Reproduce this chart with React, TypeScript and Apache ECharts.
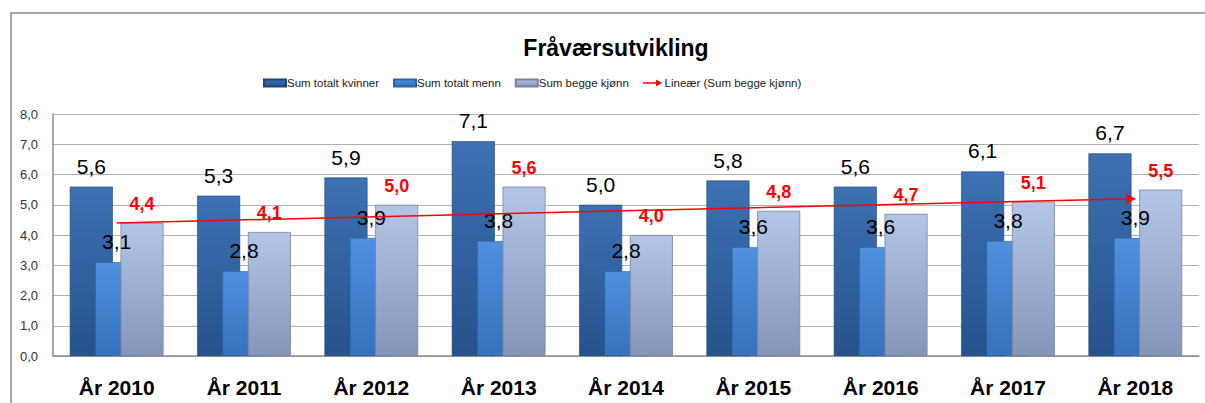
import React, { useEffect, useRef } from "react";
import * as echarts from "echarts";

const categories = ["År 2010", "År 2011", "År 2012", "År 2013", "År 2014", "År 2015", "År 2016", "År 2017", "År 2018"];
const kvinner = [5.6, 5.3, 5.9, 7.1, 5.0, 5.8, 5.6, 6.1, 6.7];
const menn = [3.1, 2.8, 3.9, 3.8, 2.8, 3.6, 3.6, 3.8, 3.9];
const begge = [4.4, 4.1, 5.0, 5.6, 4.0, 4.8, 4.7, 5.1, 5.5];
// trend line: value at first and last category
const trendValues = [4.4, 5.2];
const yTicks = { min: 0, max: 8, interval: 1 };

const fmt = (v: number) => v.toFixed(1).replace(".", ",");

const grad = (top: string, bottom: string) =>
  new echarts.graphic.LinearGradient(0, 0, 0, 1, [
    { offset: 0, color: top },
    { offset: 1, color: bottom },
  ]);

export default function App() {
  const ref = useRef<HTMLDivElement>(null);
  useEffect(() => {
    if (!ref.current) return;
    const chart = echarts.init(ref.current, null, { renderer: "svg" });
    const font = "'Liberation Sans', Arial, sans-serif";
    chart.setOption({
      animation: false,
      backgroundColor: "#ffffff",
      graphic: [
        {
          type: "rect",
          shape: { x: 11, y: 13, width: 1210, height: 420 },
          style: { fill: "none", stroke: "#8a8a8a", lineWidth: 1.5 },
          silent: true,
          z: -1,
        },
      ],
      title: {
        text: "Fråværsutvikling",
        left: 611,
        top: 31,
        textAlign: "center",
        textStyle: { fontSize: 23, fontWeight: "bold", color: "#000", fontFamily: font },
      },
      legend: {
        left: 258,
        top: 72,
        itemGap: 14,
        itemWidth: 22,
        itemHeight: 7,
        textStyle: { fontSize: 11.5, color: "#222", fontFamily: font, padding: [0, 0, 0, -4] },
        data: [
          { name: "Sum totalt kvinner", icon: "rect" },
          { name: "Sum totalt menn", icon: "rect" },
          { name: "Sum begge kjønn", icon: "rect" },
          {
            name: "Lineær (Sum begge kjønn)",
            icon: "path://M0,4.2 L15,4.2 L15,1 L22,5 L15,9 L15,5.8 L0,5.8 Z",
            itemStyle: { color: "#ff0000" },
          },
        ],
      },
      grid: { left: 53, right: 6, top: 114, bottom: 47, containLabel: false },
      xAxis: {
        type: "category",
        data: categories,
        axisTick: { show: false },
        axisLine: { show: true, lineStyle: { color: "#8c8c8c", width: 1.5 } },
        axisLabel: {
          margin: 21,
          fontSize: 21,
          fontWeight: "bold",
          color: "#000",
          fontFamily: font,
        },
      },
      yAxis: {
        type: "value",
        min: yTicks.min,
        max: yTicks.max,
        interval: yTicks.interval,
        axisLine: { show: true, lineStyle: { color: "#8c8c8c", width: 1.5 } },
        axisTick: { show: false },
        splitLine: { lineStyle: { color: "#b0b0b0", width: 1.2 } },
        axisLabel: {
          formatter: (v: number) => fmt(v),
          fontSize: 13,
          color: "#333",
          margin: 15,
          fontFamily: font,
        },
      },
      series: [
        {
          name: "Sum totalt kvinner",
          type: "bar",
          data: kvinner,
          barWidth: 43,
          barGap: "-41%",
          itemStyle: { color: grad("#3c71b3", "#26528c"), borderColor: "#1f4376", borderWidth: 0.6 },
          label: {
            show: true,
            position: "top",
            distance: 10,
            formatter: (p: any) => fmt(p.value),
            fontSize: 21,
            color: "#000",
            fontFamily: font,
          },
        },
        {
          name: "Sum totalt menn",
          type: "bar",
          data: menn,
          barWidth: 43,
          barGap: "-41%",
          itemStyle: { color: grad("#4f91dd", "#3671bd"), borderColor: "#2e62a6", borderWidth: 0.6 },
          label: {
            show: true,
            position: "top",
            distance: 10,
            formatter: (p: any) => fmt(p.value),
            fontSize: 21,
            color: "#000",
            fontFamily: font,
          },
        },
        {
          name: "Sum begge kjønn",
          type: "bar",
          data: begge,
          barWidth: 43,
          barGap: "-41%",
          itemStyle: { color: grad("#b4c6e8", "#8595b9"), borderColor: "#76849f", borderWidth: 0.8 },
          label: {
            show: true,
            position: "top",
            distance: 10,
            formatter: (p: any) => fmt(p.value),
            fontSize: 18,
            fontWeight: "bold",
            color: "#ff0000",
            fontFamily: font,
          },
        },
        {
          name: "Lineær (Sum begge kjønn)",
          type: "line",
          data: [],
          itemStyle: { color: "#ff0000" },
          lineStyle: { color: "#ff0000" },
          markLine: {
            silent: true,
            symbol: ["none", "arrow"],
            symbolSize: [9, 10],
            label: { show: false },
            lineStyle: { color: "#ff0000", width: 1.5, type: "solid" },
            data: [
              [
                { coord: [0, trendValues[0]] },
                { coord: [categories.length - 1, trendValues[1]] },
              ],
            ],
          },
        },
      ],
    });
    return () => chart.dispose();
  }, []);
  return (
    <div
      ref={ref}
      style={{ position: "absolute", left: 0, top: 0, width: 1205, height: 403 }}
    />
  );
}
